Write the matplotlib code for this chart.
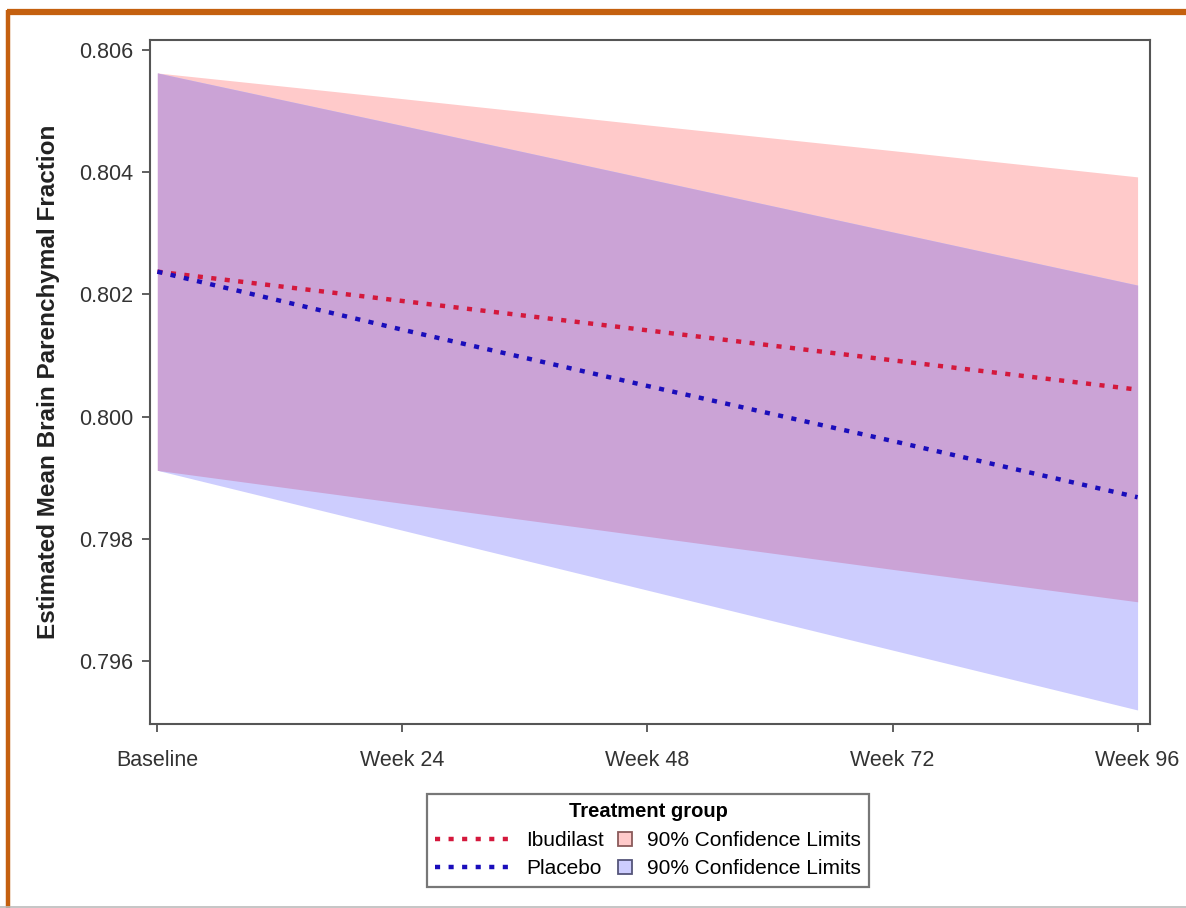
import numpy as np
import matplotlib
matplotlib.use("Agg")
import matplotlib.pyplot as plt
from matplotlib.lines import Line2D
from matplotlib.patches import Patch, Rectangle
from matplotlib.legend_handler import HandlerBase

plt.rcParams['font.family'] = ['Liberation Sans', 'DejaVu Sans']

# data
visits = ['Baseline', 'Week 24', 'Week 48', 'Week 72', 'Week 96']
ibud_mean = [0.80237, 0.80189, 0.80141, 0.80092, 0.80044]
ibud_lower = [0.79912, 0.79858, 0.79804, 0.79750, 0.79697]
ibud_upper = [0.80562, 0.80520, 0.80477, 0.80435, 0.80392]
plac_mean = [0.80237, 0.80142, 0.80050, 0.79960, 0.79868]
plac_lower = [0.79912, 0.79814, 0.79716, 0.79618, 0.79520]
plac_upper = [0.80562, 0.80476, 0.80389, 0.80302, 0.80215]
yticks = [0.796, 0.798, 0.800, 0.802, 0.804, 0.806]

red_band = '#ffcaca'
blue_band = '#cdcdfe'
both_band = '#cba3d6'
red_line = '#d4183c'
blue_line = '#1a0dbb'
orange = '#c4600f'


class SquareHandler(HandlerBase):
    # small square at the right end of the handle box
    def create_artists(self, legend, orig_handle, xdescent, ydescent, width, height,
                       fontsize, trans):
        s = 10
        r = Rectangle((-xdescent + width - s, -ydescent + height / 2 - s / 2), s, s,
                      facecolor=orig_handle.get_facecolor(),
                      edgecolor=orig_handle.get_edgecolor(), lw=1.3, transform=trans)
        return [r]


x = np.arange(len(visits))

fig = plt.figure(figsize=(11.86, 9.08), dpi=100)
ax = fig.add_axes([0.1265, 0.2026, 0.843, 0.7534])

ax.fill_between(x, ibud_lower, ibud_upper, color=red_band, lw=0)
ax.fill_between(x, plac_lower, plac_upper, color=blue_band, lw=0)
# overlap of the two bands
ax.fill_between(x, np.maximum(ibud_lower, plac_lower), np.minimum(ibud_upper, plac_upper),
                color=both_band, lw=0)

ax.plot(x, ibud_mean, color=red_line, lw=3.2, dashes=(1.15, 1.9), dash_capstyle='butt')
ax.plot(x, plac_mean, color=blue_line, lw=3.2, dashes=(1.15, 1.9), dash_capstyle='butt')

ax.set_xlim(-0.03, 4.05)
ax.set_ylim(0.79497, 0.80616)
ax.set_xticks(x)
ax.set_xticklabels(visits)
ax.set_yticks(yticks)
ax.set_yticklabels(['%.3f' % v for v in yticks])
ax.tick_params(direction='out', length=6, width=1.2, color='#444444',
               labelsize=15.5, labelcolor='#333333', pad=6)
ax.tick_params(axis='x', pad=13)
for s in ax.spines.values():
    s.set_color('#555555')
    s.set_linewidth(1.5)

ax.set_ylabel('Estimated Mean Brain Parenchymal Fraction', fontsize=17.5,
              fontweight='bold', color='#222222', labelpad=14)

handles = [
    Line2D([], [], color=red_line, lw=3.2, dashes=(1.15, 1.9)),
    Line2D([], [], color=blue_line, lw=3.2, dashes=(1.15, 1.9)),
    Patch(facecolor=red_band, edgecolor='#8a5a5a'),
    Patch(facecolor=blue_band, edgecolor='#55557a'),
]
labels = ['Ibudilast', 'Placebo', '90% Confidence Limits', '90% Confidence Limits']
leg = fig.legend(handles, labels, ncol=2, loc='center', bbox_to_anchor=(0.5465, 0.0745),
                 title='Treatment group', fontsize=15, frameon=True, fancybox=False,
                 edgecolor='#555555', handlelength=3.6, handletextpad=0.75,
                 columnspacing=-2.25, labelspacing=0.45, borderpad=0.4,
                 handler_map={Patch: SquareHandler()})
leg.get_title().set_fontweight('bold')
leg.get_title().set_fontsize(14.5)
leg.get_frame().set_linewidth(1.6)

# orange picture frame
fig.add_artist(Line2D([0.0055, 1.0], [1 - 12 / 908, 1 - 12 / 908], color=orange, lw=4.5,
                      transform=fig.transFigure, solid_capstyle='butt'))
fig.add_artist(Line2D([8 / 1186, 8 / 1186], [0.0, 1 - 9.5 / 908], color=orange, lw=3.2,
                      transform=fig.transFigure, solid_capstyle='butt'))
fig.add_artist(Line2D([0.0, 1.0], [1.5 / 908, 1.5 / 908], color='#bbbbbb', lw=1.2,
                      transform=fig.transFigure))

fig.savefig('out.png', dpi=100)
